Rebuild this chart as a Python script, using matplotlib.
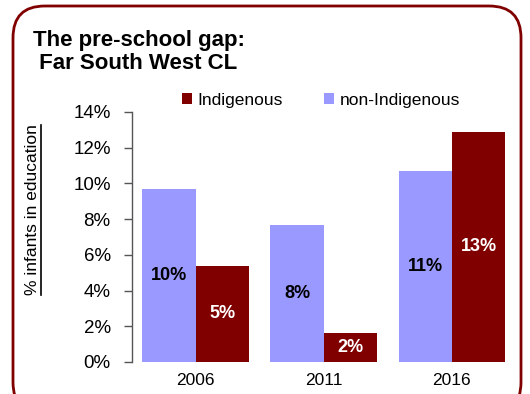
import matplotlib
matplotlib.use("Agg")
import matplotlib.pyplot as plt
from matplotlib.patches import FancyBboxPatch, Patch
from matplotlib.lines import Line2D
import numpy as np

years = ["2006", "2011", "2016"]
non_indigenous = [9.7, 7.7, 10.7]
indigenous = [5.4, 1.6, 12.9]
non_ind_labels = ["10%", "8%", "11%"]
ind_labels = ["5%", "2%", "13%"]
yticks = [0, 2, 4, 6, 8, 10, 12, 14]

C_IND = "#800000"
C_NON = "#9999FF"

plt.rcParams['font.family'] = ['Liberation Sans', 'DejaVu Sans']

fig = plt.figure(figsize=(5.30, 3.94), dpi=100)
ax = fig.add_axes([131.5/530, 32/394, 384.5/530, 250/394])

x = np.arange(len(years))
w = 0.4167
b1 = ax.bar(x - w/2, non_indigenous, w, color=C_NON, linewidth=0)
b2 = ax.bar(x + w/2, indigenous, w, color=C_IND, linewidth=0)

for rect, lab in zip(b1, non_ind_labels):
    ax.text(rect.get_x() + rect.get_width()/2, rect.get_height()/2, lab,
            ha='center', va='center', fontsize=13, fontweight='bold', color='black')
for rect, lab in zip(b2, ind_labels):
    ax.text(rect.get_x() + rect.get_width()/2, rect.get_height()/2, lab,
            ha='center', va='center', fontsize=13, fontweight='bold', color='white')

ax.set_xlim(-0.5, 2.5)
ax.set_ylim(0, 14)
ax.set_yticks(yticks)
ax.set_yticklabels([f"{t}%" for t in yticks], fontsize=13.5)
ax.set_xticks(x)
ax.set_xticklabels(years, fontsize=12.5)
ax.tick_params(axis='x', length=0, pad=8)
ax.tick_params(axis='y', length=6, width=1, color='#555555', pad=9, direction='out')
for s in ['top', 'right', 'bottom']:
    ax.spines[s].set_visible(False)
ax.spines['left'].set_color('#555555')
ax.spines['left'].set_linewidth(1)

# y label with underline
ylab = fig.text(33/530, 1 - 210/394, "% infants in education", rotation=90,
                ha='center', va='center', fontsize=12.5)
fig.canvas.draw()
bb = ylab.get_window_extent(renderer=fig.canvas.get_renderer())
fig.add_artist(Line2D([bb.x1/530 + 0.001, bb.x1/530 + 0.001], [bb.y0/394, bb.y1/394],
                      transform=fig.transFigure, color='black', lw=1.2))

# title
fig.text(33/530, 1 - 52/394, "The pre-school gap:\n Far South West CL", ha='left', va='center',
         fontsize=16, fontweight='bold', linespacing=1.15)

# legend
handles = [Patch(facecolor=C_IND, edgecolor='none'), Patch(facecolor=C_NON, edgecolor='none')]
fig.legend(handles, ["Indigenous", "non-Indigenous"], loc='center left',
           bbox_to_anchor=(182/530, 1 - 100/394), ncol=2, frameon=False, fontsize=12.5,
           handlelength=0.6, handleheight=0.6, handletextpad=0.3, columnspacing=2.35,
           borderaxespad=0, borderpad=0)

# rounded border
border = FancyBboxPatch((13/530, -20/394), (521-13)/530, (394-6+20)/394,
                        boxstyle="round,pad=0,rounding_size=0.06", transform=fig.transFigure,
                        facecolor='none', edgecolor=C_IND, lw=2, clip_on=False,
                        mutation_aspect=530/394)
fig.add_artist(border)

fig.savefig("out.png", dpi=100)
